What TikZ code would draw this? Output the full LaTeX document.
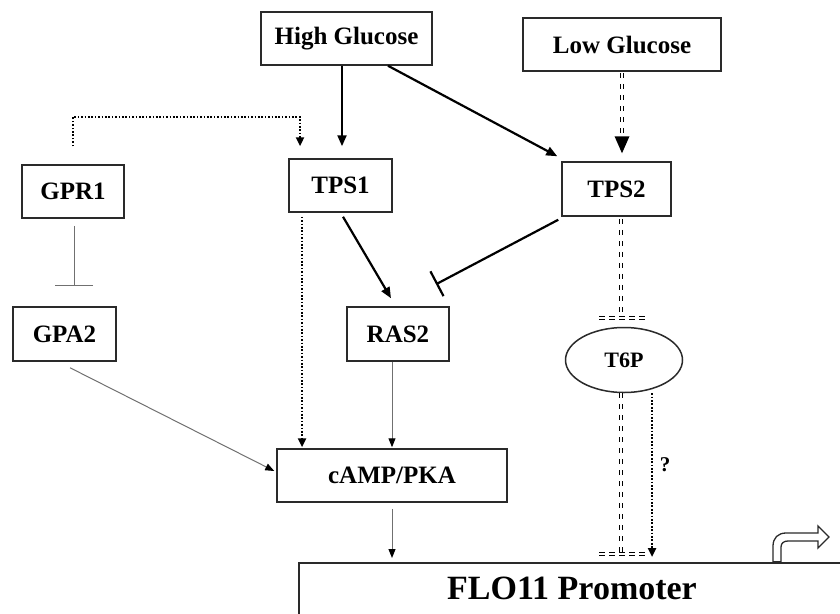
\documentclass[tikz,border=0pt]{standalone}
\usepackage{fontspec}
\setmainfont{Liberation Serif}
\usetikzlibrary{arrows.meta,shapes.geometric,calc}
\definecolor{boxc}{HTML}{2A2A2A}
\definecolor{thinc}{HTML}{707070}
\begin{document}
\begin{tikzpicture}[x=1pt,y=-1pt,
  box/.style={draw=boxc,line width=1.5pt,minimum height=53pt,inner sep=0pt,
    font=\fontsize{25}{28}\selectfont\bfseries},
  strong/.style={line width=2.2pt,-{Triangle[length=11pt,width=9pt]}},
  inhib/.style={line width=2.2pt,-{Bar[width=28pt]}},
  thinarr/.style={draw=thinc,line width=1pt,-{Triangle[length=9pt,width=7pt,color=black]}},
  thininh/.style={draw=thinc,line width=1pt,-{Bar[width=38pt]}},
  dots/.style={line width=2.3pt,dash pattern=on 1.7pt off 1.7pt,-{Triangle[length=9pt,width=8pt]}},
  dbl/.style={double=white,double distance=1.8pt,line width=1.3pt,dash pattern=on 5pt off 6pt},
  dblbar/.style={double=white,double distance=1.8pt,line width=1.3pt,dash pattern=on 6pt off 4pt}]
\useasboundingbox (0,0) rectangle (840,613);
\clip (0,0) rectangle (840,613);

% nodes
\node[box,minimum width=171pt] (hg) at (346.5,38.5) {High Glucose};
\node[box,minimum width=198pt] (lg) at (622,44.5) {Low Glucose};
\node[box,minimum width=102pt] (gpr1) at (73,191.5) {GPR1};
\node[box,minimum width=103pt] (tps1) at (340.5,185.5) {TPS1};
\node[box,minimum width=109pt,minimum height=54pt] (tps2) at (616.5,189) {TPS2};
\node[box,minimum width=103pt,minimum height=54pt] (gpa2) at (64.5,334) {GPA2};
\node[box,minimum width=102pt,minimum height=54pt] (ras2) at (398,334) {RAS2};
\node[box,minimum width=230pt] (camp) at (392,475.5) {cAMP/PKA};
\node[draw=boxc,line width=1.5pt,ellipse,minimum width=117pt,minimum height=65pt,inner sep=0pt,
  font=\fontsize{22}{24}\selectfont\bfseries] (t6p) at (624,360) {T6P};
\node[draw=boxc,line width=1.8pt,anchor=north west,minimum width=580pt,minimum height=90pt,inner sep=0pt] (flo) at (298,562) {};
\node[anchor=base,inner sep=0pt,font=\fontsize{34}{38}\selectfont\bfseries] (flolabel) at (572,599) {FLO11 Promoter};
\node[font=\fontsize{21}{22}\selectfont\bfseries,inner sep=0pt] (q) at (665,465) {?};

% High glucose arrows
\draw[strong] ($(hg.south)+(-4.5,0)$) -- ($(tps1.north)+(1.5,-12)$);
\draw[strong] ($(hg.south)+(41.5,0)$) -- ($(tps2.north west)+(-4,-5)$);

% Low glucose -> TPS2 (double dashed with big head)
\coordinate (lgtip) at ($(tps2.north)+(5.5,-8)$);
\draw[dbl] ($(lg.south)+(0,1)$) -- ($(lgtip)+(0,-17)$);
\fill ($(lgtip)+(-7.5,-17)$) -- ($(lgtip)+(7.5,-17)$) -- (lgtip) -- cycle;

% GPR1 dotted to TPS1
\coordinate (g1) at ($(gpr1.north)+(0,-18)$);
\coordinate (g2) at ($(tps1.north)+(-40.5,-12)$);
\draw[dots] (g1) -- (g1 |- 0,117) -- (g2 |- 0,117) -- (g2);

% TPS1 dotted to cAMP
\draw[dots] ($(tps1.south)+(-38.5,4)$) -- ($(camp.north)+(-90,-1)$);

% TPS1 -> RAS2
\draw[strong] ($(tps1.south)+(2.5,4)$) -- ($(ras2.north)+(-7,-8)$);

% TPS2 -| RAS2
\draw[inhib] ($(tps2.south west)+(-3,3)$) -- ($(ras2.north)+(38,-22)$);

% GPR1 -| GPA2
\draw[thininh] ($(gpr1.south)+(1,7)$) -- ($(gpa2.north)+(9.5,-20)$);

% GPA2 -> cAMP
\draw[thinarr] ($(gpa2.south)+(5.5,6)$) -- ($(camp.west)+(-2,-4.5)$);

% RAS2 -> cAMP
\draw[thinarr] ($(ras2.south)+(-6,0)$) -- ($(camp.north)+(0,-1)$);

% cAMP -> FLO11
\draw[thinarr] ($(camp.south)+(0,6)$) -- ($(flo.north west)+(94,-4)$);

% TPS2 -> T6P (double dashed with bar)
\coordinate (tb) at ($(t6p.north)+(-3,-8.5)$);
\draw[dbl] ($(tps2.south)+(4.5,2)$) -- (tb);
\draw[dblbar] ($(tb)+(-22,0)$) -- ($(tb)+(25,0)$);

% T6P -> FLO11 (double dashed with bar)
\coordinate (fb) at ($(t6p.south |- flo.north)+(-3,-8)$);
\draw[dbl] ($(t6p.south)+(-3,0)$) -- (fb);
\draw[dblbar] ($(fb)+(-22,0)$) -- ($(fb)+(25,0)$);

% T6P -> FLO11 dotted (?)
\draw[dots] ($(t6p.south)+(28,0)$) -- ($(t6p.south |- flo.north)+(28,-5)$);

% transcription start arrow (hollow)
\draw[boxc,line width=1.3pt,fill=white]
  (773,562) -- (773,546) .. controls (773,538) and (778,533) .. (786,533)
  -- (818,533) -- (818,526) -- (829,537) -- (818,548) -- (818,541)
  -- (788,541) .. controls (784,541) and (781,543) .. (781,547) -- (781,562) -- cycle;
\draw[boxc,line width=2.5pt] (773,562) -- (781,562);
\end{tikzpicture}
\end{document}
